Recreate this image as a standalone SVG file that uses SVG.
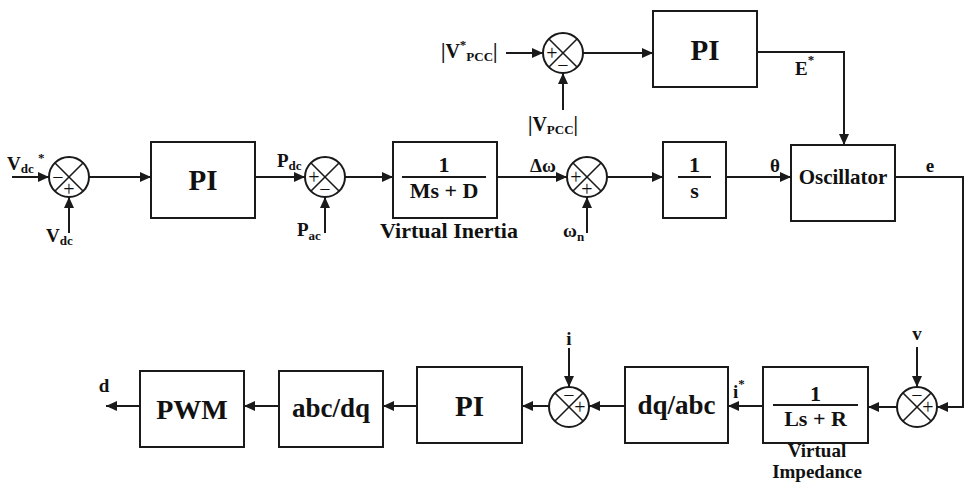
<svg xmlns="http://www.w3.org/2000/svg" width="966" height="484" viewBox="0 0 966 484" font-family="'Liberation Serif', 'DejaVu Serif', 'Times New Roman', serif" font-weight="bold">
<defs>
<marker id="ah" markerUnits="userSpaceOnUse" markerWidth="12" markerHeight="10" refX="11" refY="5" orient="auto">
<path d="M0,0 L11,5 L0,10 Z" fill="#1a1a1a"/>
</marker>
<style>
.box{fill:#fff;stroke:#1a1a1a;stroke-width:2}
.ln{fill:none;stroke:#1a1a1a;stroke-width:2}
.ar{fill:none;stroke:#1a1a1a;stroke-width:2;marker-end:url(#ah)}
.sum{fill:#fff;stroke:#1a1a1a;stroke-width:2}
.x{stroke:#1a1a1a;stroke-width:1.6}
text{font-family:'Liberation Serif','DejaVu Serif','Times New Roman',serif;font-weight:bold;fill:#111}
.big{font-size:29px}
.mid{font-size:22px}
.lab{font-size:19px}
.sub{font-size:13px}
.sg{font-size:20px;font-weight:normal}
</style>
</defs>

<g id="connectors">
<line class="ar" x1="12" y1="177" x2="49" y2="177"/>
<line class="ar" x1="69" y1="233" x2="69" y2="197"/>
<line class="ar" x1="89" y1="177" x2="151" y2="177"/>
<line class="ar" x1="255" y1="177" x2="305" y2="177"/>
<line class="ar" x1="325" y1="233" x2="325" y2="197"/>
<line class="ar" x1="345" y1="177" x2="393" y2="177"/>
<line class="ar" x1="497" y1="177" x2="567" y2="177"/>
<line class="ar" x1="587" y1="233" x2="587" y2="197"/>
<line class="ar" x1="607" y1="177" x2="663" y2="177"/>
<line class="ar" x1="726" y1="177" x2="791" y2="177"/>
<line class="ar" x1="506" y1="53" x2="543" y2="53"/>
<line class="ar" x1="563" y1="110" x2="563" y2="73"/>
<line class="ar" x1="583" y1="53" x2="653" y2="53"/>
<polyline class="ar" points="757,52 844,52 844,145"/>
<polyline class="ar" points="895,177 963,177 963,407 937,407"/>
<line class="ar" x1="917" y1="347" x2="917" y2="387"/>
<line class="ar" x1="897" y1="407" x2="868" y2="407"/>
<line class="ar" x1="763" y1="406" x2="728" y2="406"/>
<line class="ar" x1="625" y1="406" x2="589" y2="406"/>
<line class="ar" x1="569" y1="348" x2="569" y2="387"/>
<line class="ar" x1="549" y1="406" x2="522" y2="406"/>
<line class="ar" x1="417" y1="406" x2="383" y2="406"/>
<line class="ar" x1="279" y1="406" x2="244" y2="406"/>
<line class="ar" x1="140" y1="406" x2="106" y2="406"/>
</g>

<g id="sum_vdc">
<circle class="sum" cx="69" cy="177" r="20"/>
<line class="x" x1="55" y1="163" x2="83" y2="191"/><line class="x" x1="83" y1="163" x2="55" y2="191"/>
<text class="sg" x="58" y="184" text-anchor="middle">−</text>
<text class="sg" x="69" y="196" text-anchor="middle">+</text>
</g>
<g id="lbl_vdcref">
<text class="lab" x="7" y="170">V<tspan class="sub" dy="3">dc</tspan></text>
<text class="sub" x="38" y="162">*</text>
</g>
<g id="lbl_vdc"><text class="lab" x="46" y="242">V<tspan class="sub" dy="3">dc</tspan></text></g>

<g id="pi_dc">
<rect class="box" x="151" y="142" width="104" height="76"/>
<text class="big" x="203" y="190" text-anchor="middle">PI</text>
</g>
<g id="lbl_pdc"><text class="lab" x="277" y="167">P<tspan class="sub" dy="3">dc</tspan></text></g>

<g id="sum_p">
<circle class="sum" cx="325" cy="177" r="20"/>
<line class="x" x1="311" y1="163" x2="339" y2="191"/><line class="x" x1="339" y1="163" x2="311" y2="191"/>
<text class="sg" x="314" y="184" text-anchor="middle">+</text>
<text class="sg" x="325" y="196" text-anchor="middle">−</text>
</g>
<g id="lbl_pac"><text class="lab" x="297" y="236">P<tspan class="sub" dy="4">ac</tspan></text></g>

<g id="virtual_inertia">
<rect class="box" x="393" y="142" width="104" height="76"/>
<line class="ln" x1="402" y1="177" x2="486" y2="177"/>
<text class="mid" x="444" y="172" text-anchor="middle">1</text>
<text class="mid" x="444" y="198" text-anchor="middle">Ms + D</text>
<text class="mid" x="449" y="238" text-anchor="middle">Virtual Inertia</text>
</g>
<g id="lbl_dw"><text class="lab" x="530" y="172">Δω</text></g>

<g id="sum_w">
<circle class="sum" cx="587" cy="177" r="20"/>
<line class="x" x1="573" y1="163" x2="601" y2="191"/><line class="x" x1="601" y1="163" x2="573" y2="191"/>
<text class="sg" x="576" y="184" text-anchor="middle">+</text>
<text class="sg" x="587" y="196" text-anchor="middle">+</text>
</g>
<g id="lbl_wn"><text class="lab" x="563" y="237">ω<tspan class="sub" dy="4">n</tspan></text></g>

<g id="integrator">
<rect class="box" x="663" y="142" width="63" height="76"/>
<line class="ln" x1="678" y1="177" x2="711" y2="177"/>
<text class="mid" x="694.5" y="172" text-anchor="middle">1</text>
<text class="mid" x="694.5" y="198" text-anchor="middle">s</text>
</g>
<g id="lbl_theta"><text class="lab" x="770" y="172">θ</text></g>

<g id="oscillator">
<rect class="box" x="791" y="145" width="104" height="76"/>
<text x="843" y="184" text-anchor="middle" style="font-size:21px">Oscillator</text>
</g>
<g id="lbl_e"><text class="lab" x="930" y="172" text-anchor="middle">e</text></g>

<g id="lbl_vpccref">
<text class="lab" x="441" y="58" style="font-size:20px">|V<tspan class="sub" dy="-9">*</tspan><tspan class="sub" dy="12">PCC</tspan><tspan style="font-size:20px" dy="-3">|</tspan></text>
</g>
<g id="sum_v">
<circle class="sum" cx="563" cy="53" r="20"/>
<line class="x" x1="549" y1="39" x2="577" y2="67"/><line class="x" x1="577" y1="39" x2="549" y2="67"/>
<text class="sg" x="552" y="60" text-anchor="middle">+</text>
<text class="sg" x="563" y="72" text-anchor="middle">−</text>
</g>
<g id="lbl_vpcc"><text class="lab" x="528" y="131" style="font-size:20px">|V<tspan class="sub" dy="3">PCC</tspan><tspan style="font-size:20px" dy="-3">|</tspan></text></g>

<g id="pi_v">
<rect class="box" x="653" y="11" width="104" height="76"/>
<text class="big" x="705" y="60" text-anchor="middle">PI</text>
</g>
<g id="lbl_estar"><text class="lab" x="795" y="75">E<tspan class="sub" dy="-11">*</tspan></text></g>

<g id="sum_vv">
<circle class="sum" cx="917" cy="407" r="20"/>
<line class="x" x1="903" y1="393" x2="931" y2="421"/><line class="x" x1="931" y1="393" x2="903" y2="421"/>
<text class="sg" x="917" y="402" text-anchor="middle">−</text>
<text class="sg" x="928" y="414" text-anchor="middle">+</text>
</g>
<g id="lbl_v"><text class="lab" x="917" y="340" text-anchor="middle">v</text></g>

<g id="virtual_impedance">
<rect class="box" x="763" y="367" width="105" height="76"/>
<line class="ln" x1="773" y1="405" x2="858" y2="405"/>
<text class="mid" x="815.5" y="401" text-anchor="middle">1</text>
<text class="mid" x="815.5" y="426" text-anchor="middle">Ls + R</text>
<text x="817" y="457" text-anchor="middle" style="font-size:19px">Virtual</text>
<text x="817" y="478" text-anchor="middle" style="font-size:19px">Impedance</text>
</g>
<g id="lbl_istar"><text class="lab" x="733" y="398">i<tspan class="sub" dy="-10">*</tspan></text></g>

<g id="dq_abc">
<rect class="box" x="625" y="367" width="103" height="76"/>
<text class="big" x="676.5" y="414" text-anchor="middle" style="font-size:27px">dq/abc</text>
</g>

<g id="sum_i">
<circle class="sum" cx="569" cy="407" r="20"/>
<line class="x" x1="555" y1="393" x2="583" y2="421"/><line class="x" x1="583" y1="393" x2="555" y2="421"/>
<text class="sg" x="569" y="402" text-anchor="middle">−</text>
<text class="sg" x="580" y="414" text-anchor="middle">+</text>
</g>
<g id="lbl_i"><text class="lab" x="569" y="345" text-anchor="middle">i</text></g>

<g id="pi_i">
<rect class="box" x="417" y="367" width="105" height="76"/>
<text class="big" x="469.5" y="416" text-anchor="middle">PI</text>
</g>

<g id="abc_dq">
<rect class="box" x="279" y="371" width="104" height="76"/>
<text class="big" x="331" y="417" text-anchor="middle" style="font-size:27px">abc/dq</text>
</g>

<g id="pwm">
<rect class="box" x="140" y="371" width="104" height="76"/>
<text class="big" x="192" y="419" text-anchor="middle" style="font-size:28px">PWM</text>
</g>
<g id="lbl_d"><text class="lab" x="104" y="392" text-anchor="middle">d</text></g>
</svg>
